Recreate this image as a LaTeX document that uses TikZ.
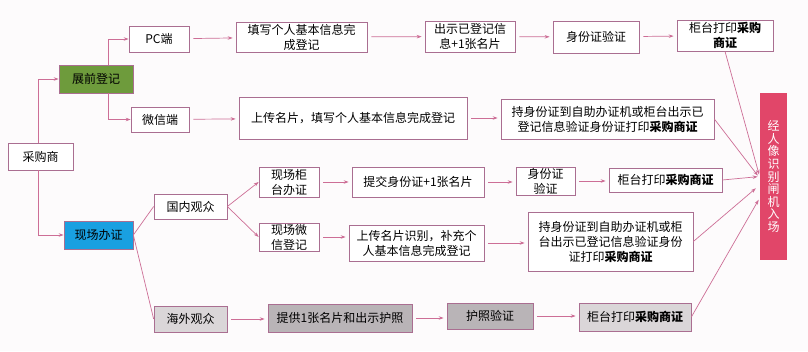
\documentclass[tikz,border=0pt]{standalone}
\usepackage{fontspec}
\setmainfont{Noto Sans CJK SC}
\usepackage{tikz}
\usetikzlibrary{arrows.meta,calc}
\definecolor{edgepink}{RGB}{170,110,145}
\definecolor{linepink}{RGB}{205,110,150}
\definecolor{pregreen}{RGB}{110,155,60}
\definecolor{siteblue}{RGB}{25,160,225}
\definecolor{gatered}{RGB}{225,70,105}
\definecolor{lightgrey}{RGB}{218,214,216}
\definecolor{darkgrey}{RGB}{185,180,183}
\definecolor{bg}{RGB}{253,251,252}

\begin{document}
\begin{tikzpicture}[x=1pt,y=-1pt,
    box/.style={draw=edgepink, line width=0.7pt, fill=white, inner sep=0pt, align=center,
      font=\fontsize{12}{15}\selectfont},
    link/.style={draw=linepink, line width=0.7pt},
    arr/.style={link, -{Stealth[length=5pt,width=3.5pt]}},
    gap/.style={shorten <=4pt, shorten >=3pt}]
    \fill[bg] (0,0) rectangle (808,351);
    \def\bold#1{\textbf{#1}}
    \node[box, minimum width=65, minimum height=27] (buyer) at (40.5,156.5) {采购商};
    \node[box, fill=pregreen, minimum width=74, minimum height=28] (pre) at (96,79) {展前登记};
    \node[box, fill=siteblue, minimum width=69, minimum height=28] (onsite) at (98.5,235) {现场办证};
    \node[box, minimum width=60, minimum height=26] (pc) at (159,39) {PC端};
    \node[box, minimum width=58, minimum height=25] (wx) at (160,119.5) {微信端};
    \node[box, minimum width=131, minimum height=30] (fillin) at (301.5,37) {填写个人基本信息完\\成登记};
    \node[box, minimum width=90, minimum height=31] (show) at (470,36.5) {出示已登记信\\息+1张名片};
    \node[box, minimum width=86, minimum height=32] (idchk) at (596,37) {身份证验证};
    \node[box, minimum width=96, minimum height=31] (printa) at (725,35.5) {柜台打印\bold{采购}\\\bold{商证}};
    \node[box, minimum width=228, minimum height=42] (upload) at (353,118) {上传名片，填写个人基本信息完成登记};
    \node[box, minimum width=213, minimum height=40] (holda) at (607.5,119)
      {持身份证到自助办证机或柜台出示已\\登记信息验证身份证打印\bold{采购商证}};
    \node[box, draw=none, fill=gatered, text=white, minimum width=27, minimum height=167,
      font=\fontsize{12}{12.6}\selectfont] (gate) at (773.5,176.5)
      {经\\人\\像\\识\\别\\闸\\机\\入\\场};
    \node[box, minimum width=73, minimum height=25] (dom) at (190.5,206.5) {国内观众};
    \node[box, fill=lightgrey, minimum width=73, minimum height=26] (abroad) at (190.5,319) {海外观众};
    \node[box, minimum width=60, minimum height=30] (counter) at (289,182) {现场柜\\台办证};
    \node[box, minimum width=60, minimum height=28] (wxreg) at (289,237) {现场微\\信登记};
    \node[box, minimum width=132, minimum height=30] (submit) at (418,182) {提交身份证+1张名片};
    \node[box, minimum width=135, minimum height=36] (scan) at (416.5,243) {上传名片识别，补充个\\人基本信息完成登记};
    \node[box, minimum width=59, minimum height=28] (idchkb) at (545.5,181) {身份证\\验证};
    \node[box, minimum width=113, minimum height=24] (printb) at (665.5,180) {柜台打印\bold{采购商证}};
    \node[box, minimum width=165, minimum height=59] (holdb) at (610.5,241.5)
      {持身份证到自助办证机或柜\\台出示已登记信息验证身份\\证打印\bold{采购商证}};
    \node[box, fill=darkgrey, minimum width=144, minimum height=28] (offer) at (340,318) {提供1张名片和出示护照};
    \node[box, fill=darkgrey, minimum width=86, minimum height=26] (passport) at (490,316) {护照验证};
    \node[box, fill=lightgrey, minimum width=112, minimum height=28] (printc) at (635,317) {柜台打印\bold{采购商证}};
    \draw[arr] ([xshift=-2pt]buyer.north) |- (pre.west);
    \draw[arr] ([xshift=-2pt]buyer.south) |- (onsite.west);
    \draw[arr] ([xshift=12pt]pre.north) |- (pc.west);
    \draw[arr] ([xshift=12pt]pre.south) |- (wx.west);
    \draw[arr, gap] (pc) -- (fillin);
    \draw[arr, gap] (fillin) -- (show);
    \draw[arr, gap] (show) -- (idchk);
    \draw[arr, gap] (idchk) -- (printa);
    \draw[arr, gap] (wx) -- (upload);
    \draw[arr, gap] (upload.east) -- (holda.west |- upload.east);
    \draw[link] (onsite.east) -- (dom.west);
    \draw[link] (onsite.east) -- (abroad.west);
    \draw[arr] (dom.east) -- (counter.west);
    \draw[arr] (dom.east) -- (wxreg.west);
    \draw[arr, gap] (counter) -- (counter -| submit.west);
    \draw[arr, gap] (submit) -- (submit -| idchkb.west);
    \draw[arr, gap] (idchkb) -- (idchkb -| printb.west);
    \draw[arr, gap] (wxreg) -- (wxreg -| scan.west);
    \draw[arr, gap] (scan) -- (scan -| holdb.west);
    \draw[arr, gap] (abroad) -- (abroad -| offer.west);
    \draw[arr, gap] (offer) -- (offer -| passport.west);
    \draw[arr, gap] (passport) -- (passport -| printc.west);
    \draw[arr, shorten >=2pt] (printa.south) -- (gate.west);
    \draw[arr, shorten >=3pt] (holda.east) -- ([yshift=-1.5pt]gate.west);
    \draw[arr, shorten >=2pt] (printb.east) -- (gate.west);
    \draw[arr, shorten >=5pt] (holdb.east) -- ([yshift=-8.5pt]gate.west);
    \draw[arr, shorten >=2pt] (printc.east) -- ([yshift=-21.5pt]gate.west);
\end{tikzpicture}
\end{document}
